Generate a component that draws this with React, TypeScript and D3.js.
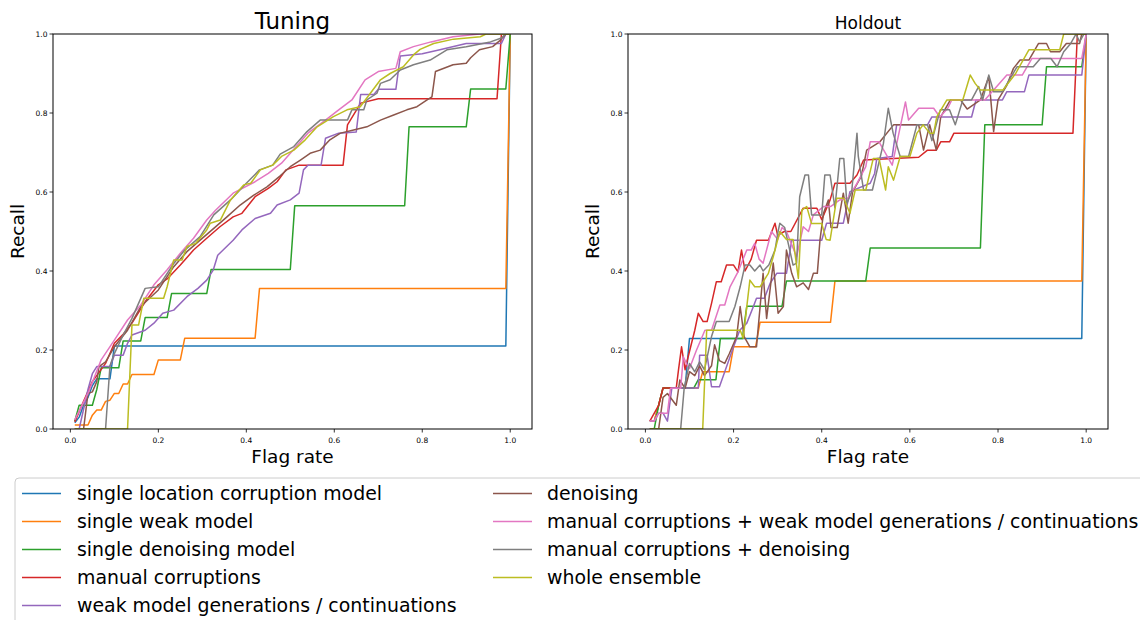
import React from 'react';
import * as d3 from 'd3';

type Pt = [number, number];

const seriesNames = [
  'single location corruption model',
  'single weak model',
  'single denoising model',
  'manual corruptions',
  'weak model generations / continuations',
  'denoising',
  'manual corruptions + weak model generations / continuations',
  'manual corruptions + denoising',
  'whole ensemble',
];
const seriesColors = ['#1f77b4', '#ff7f0e', '#2ca02c', '#d62728', '#9467bd', '#8c564b', '#e377c2', '#7f7f7f', '#bcbd22'];
const tickValues = [0, 0.2, 0.4, 0.6, 0.8, 1.0];
const tickLabels = ['0.0', '0.2', '0.4', '0.6', '0.8', '1.0'];
const panelTitles = ['Tuning', 'Holdout'];
const xLabel = 'Flag rate';
const yLabel = 'Recall';

// ---------- Tuning ----------
const tuningBlue: Pt[] = [[0.01,0.016],[0.02,0.03],[0.03,0.06],[0.04,0.08],[0.05,0.11],[0.06,0.127],[0.09,0.127],[0.1,0.21],[0.99,0.21],[1.0,1.0]];
const tuningOrange: Pt[] = [[0.01,0.01],[0.04,0.01],[0.05,0.035],[0.06,0.048],[0.07,0.048],[0.08,0.07],[0.09,0.073],[0.1,0.09],[0.11,0.09],[0.12,0.114],[0.13,0.114],[0.14,0.138],[0.19,0.138],[0.2,0.175],[0.25,0.175],[0.26,0.23],[0.42,0.23],[0.43,0.356],[0.99,0.356],[1.0,1.0]];
const tuningGreen: Pt[] = [[0.01,0.02],[0.02,0.06],[0.05,0.06],[0.06,0.1],[0.07,0.155],[0.11,0.155],[0.12,0.223],[0.16,0.223],[0.17,0.282],[0.22,0.282],[0.23,0.343],[0.31,0.343],[0.32,0.404],[0.5,0.404],[0.51,0.565],[0.76,0.565],[0.77,0.765],[0.9,0.765],[0.91,0.861],[0.99,0.861],[1.0,1.0]];
const tuningRed: Pt[] = [[0.01,0.018],[0.03,0.07],[0.05,0.12],[0.08,0.166],[0.1,0.217],[0.12,0.24],[0.14,0.268],[0.17,0.322],[0.2,0.365],[0.22,0.38],[0.25,0.415],[0.28,0.453],[0.31,0.483],[0.34,0.512],[0.37,0.537],[0.39,0.546],[0.42,0.588],[0.45,0.609],[0.47,0.626],[0.49,0.656],[0.52,0.668],[0.62,0.668],[0.63,0.77],[0.66,0.825],[0.7,0.836],[0.97,0.836],[0.98,1.0],[1.0,1.0]];
const tuningPurple: Pt[] = [[0.02,0.0],[0.03,0.05],[0.04,0.1],[0.05,0.14],[0.06,0.158],[0.09,0.158],[0.1,0.187],[0.12,0.187],[0.13,0.217],[0.14,0.238],[0.17,0.25],[0.19,0.268],[0.21,0.293],[0.235,0.301],[0.265,0.335],[0.29,0.356],[0.31,0.377],[0.325,0.403],[0.335,0.44],[0.37,0.478],[0.39,0.504],[0.42,0.533],[0.455,0.546],[0.47,0.567],[0.5,0.58],[0.52,0.597],[0.53,0.656],[0.54,0.668],[0.57,0.668],[0.58,0.736],[0.61,0.749],[0.65,0.752],[0.66,0.847],[0.69,0.847],[0.7,0.86],[0.74,0.86],[0.75,0.944],[0.8,0.95],[0.84,0.96],[0.9,0.976],[0.98,0.976],[0.99,1.0],[1.0,1.0]];
const tuningBrown: Pt[] = [[0.01,0.0],[0.03,0.0],[0.04,0.09],[0.05,0.094],[0.06,0.12],[0.065,0.158],[0.08,0.17],[0.1,0.208],[0.13,0.25],[0.16,0.31],[0.2,0.352],[0.235,0.411],[0.265,0.449],[0.295,0.478],[0.326,0.508],[0.356,0.537],[0.386,0.567],[0.417,0.592],[0.447,0.613],[0.477,0.641],[0.5,0.664],[0.523,0.681],[0.545,0.698],[0.568,0.706],[0.59,0.732],[0.614,0.749],[0.644,0.757],[0.674,0.765],[0.705,0.782],[0.735,0.795],[0.765,0.808],[0.788,0.816],[0.811,0.833],[0.822,0.841],[0.83,0.905],[0.87,0.922],[0.9,0.926],[0.91,0.94],[0.93,0.96],[0.96,0.968],[0.977,0.984],[0.99,1.0],[1.0,1.0]];
const tuningPink: Pt[] = [[0.01,0.023],[0.04,0.09],[0.07,0.175],[0.1,0.225],[0.13,0.276],[0.16,0.314],[0.19,0.365],[0.22,0.403],[0.25,0.445],[0.28,0.483],[0.31,0.529],[0.33,0.554],[0.37,0.597],[0.42,0.626],[0.45,0.647],[0.48,0.673],[0.51,0.711],[0.54,0.749],[0.58,0.782],[0.61,0.808],[0.64,0.833],[0.67,0.884],[0.7,0.905],[0.74,0.913],[0.75,0.955],[0.78,0.968],[0.82,0.98],[0.87,0.993],[0.93,1.0],[1.0,1.0]];
const tuningGray: Pt[] = [[0.01,0.0],[0.08,0.0],[0.09,0.16],[0.1,0.191],[0.12,0.238],[0.14,0.28],[0.17,0.356],[0.2,0.36],[0.235,0.419],[0.26,0.453],[0.295,0.487],[0.326,0.542],[0.364,0.58],[0.4,0.622],[0.43,0.656],[0.46,0.668],[0.477,0.696],[0.508,0.715],[0.538,0.753],[0.568,0.782],[0.63,0.782],[0.64,0.808],[0.667,0.808],[0.674,0.833],[0.697,0.85],[0.705,0.875],[0.727,0.884],[0.75,0.909],[0.78,0.922],[0.818,0.934],[0.856,0.96],[0.9,0.968],[0.955,0.98],[0.98,0.99],[0.99,1.0],[1.0,1.0]];
const tuningOlive: Pt[] = [[0.01,0.0],[0.13,0.0],[0.14,0.263],[0.155,0.263],[0.167,0.331],[0.212,0.331],[0.22,0.36],[0.235,0.428],[0.254,0.428],[0.265,0.462],[0.285,0.47],[0.31,0.504],[0.318,0.521],[0.341,0.529],[0.364,0.58],[0.394,0.618],[0.41,0.622],[0.432,0.656],[0.46,0.668],[0.48,0.69],[0.508,0.706],[0.534,0.732],[0.561,0.765],[0.598,0.791],[0.629,0.808],[0.659,0.816],[0.682,0.85],[0.705,0.884],[0.727,0.9],[0.757,0.917],[0.78,0.947],[0.795,0.961],[0.826,0.976],[0.871,0.987],[0.932,0.993],[0.945,1.0],[1.0,1.0]];

// ---------- Holdout ----------
const holdoutBlue: Pt[] = [[0.01,0.02],[0.02,0.02],[0.03,0.06],[0.04,0.104],[0.09,0.104],[0.1,0.229],[0.99,0.229],[1.0,1.0]];
const holdoutOrange: Pt[] = [[0.01,0.02],[0.02,0.02],[0.03,0.06],[0.04,0.104],[0.12,0.104],[0.13,0.145],[0.19,0.145],[0.2,0.208],[0.25,0.208],[0.26,0.27],[0.42,0.27],[0.43,0.375],[0.99,0.375],[1.0,1.0]];
const holdoutGreen: Pt[] = [[0.01,0.0],[0.02,0.0],[0.03,0.06],[0.04,0.104],[0.11,0.104],[0.12,0.125],[0.16,0.125],[0.17,0.229],[0.22,0.229],[0.23,0.311],[0.31,0.311],[0.32,0.375],[0.5,0.375],[0.51,0.458],[0.76,0.458],[0.77,0.77],[0.9,0.77],[0.91,0.917],[0.99,0.917],[1.0,1.0]];
const holdoutRed: Pt[] = [[0.01,0.02],[0.03,0.06],[0.04,0.104],[0.07,0.104],[0.075,0.149],[0.082,0.208],[0.09,0.15],[0.097,0.183],[0.112,0.25],[0.12,0.293],[0.131,0.272],[0.14,0.272],[0.15,0.318],[0.161,0.373],[0.172,0.373],[0.184,0.415],[0.2,0.415],[0.21,0.398],[0.218,0.453],[0.226,0.4],[0.24,0.43],[0.252,0.478],[0.279,0.478],[0.294,0.521],[0.3,0.49],[0.315,0.5],[0.33,0.5],[0.358,0.559],[0.389,0.559],[0.4,0.53],[0.419,0.58],[0.43,0.622],[0.464,0.622],[0.48,0.643],[0.495,0.681],[0.62,0.688],[0.64,0.706],[0.66,0.706],[0.67,0.727],[0.69,0.727],[0.7,0.749],[0.97,0.749],[0.98,1.0],[1.0,1.0]];
const holdoutPurple: Pt[] = [[0.01,0.02],[0.02,0.02],[0.03,0.04],[0.04,0.04],[0.05,0.02],[0.06,0.104],[0.12,0.104],[0.123,0.187],[0.14,0.187],[0.15,0.107],[0.168,0.107],[0.188,0.17],[0.2,0.208],[0.214,0.25],[0.23,0.268],[0.245,0.31],[0.252,0.331],[0.27,0.331],[0.283,0.369],[0.298,0.394],[0.32,0.394],[0.332,0.478],[0.4,0.478],[0.411,0.521],[0.449,0.521],[0.464,0.601],[0.51,0.622],[0.52,0.647],[0.525,0.685],[0.56,0.69],[0.57,0.77],[0.64,0.77],[0.65,0.79],[0.74,0.79],[0.75,0.833],[0.81,0.833],[0.82,0.854],[0.86,0.854],[0.87,0.896],[0.99,0.896],[1.0,1.0]];
const holdoutBrown: Pt[] = [[0.01,0.0],[0.03,0.0],[0.04,0.08],[0.05,0.09],[0.07,0.06],[0.078,0.124],[0.09,0.103],[0.1,0.145],[0.112,0.135],[0.123,0.16],[0.134,0.135],[0.15,0.16],[0.157,0.213],[0.168,0.173],[0.18,0.166],[0.19,0.19],[0.207,0.234],[0.215,0.31],[0.224,0.234],[0.237,0.208],[0.252,0.208],[0.267,0.394],[0.275,0.28],[0.29,0.42],[0.301,0.293],[0.313,0.31],[0.32,0.453],[0.332,0.394],[0.343,0.36],[0.358,0.37],[0.37,0.353],[0.381,0.394],[0.39,0.394],[0.396,0.478],[0.404,0.546],[0.415,0.58],[0.421,0.51],[0.435,0.51],[0.449,0.597],[0.46,0.521],[0.47,0.6],[0.49,0.64],[0.502,0.706],[0.532,0.727],[0.563,0.77],[0.62,0.77],[0.631,0.706],[0.645,0.77],[0.66,0.706],[0.67,0.79],[0.692,0.833],[0.715,0.833],[0.73,0.81],[0.76,0.833],[0.779,0.892],[0.79,0.753],[0.8,0.833],[0.82,0.87],[0.835,0.913],[0.85,0.934],[0.87,0.934],[0.892,0.976],[0.91,0.976],[0.919,0.955],[0.94,0.955],[0.955,0.976],[0.985,0.976],[0.99,1.0],[1.0,1.0]];
const holdoutPink: Pt[] = [[0.01,0.02],[0.02,0.02],[0.03,0.04],[0.05,0.04],[0.057,0.103],[0.08,0.103],[0.086,0.183],[0.093,0.166],[0.1,0.153],[0.116,0.2],[0.135,0.25],[0.15,0.25],[0.169,0.314],[0.18,0.314],[0.192,0.36],[0.21,0.398],[0.23,0.453],[0.24,0.453],[0.248,0.47],[0.258,0.43],[0.267,0.42],[0.286,0.5],[0.3,0.48],[0.31,0.51],[0.32,0.5],[0.343,0.436],[0.358,0.512],[0.37,0.5],[0.381,0.542],[0.404,0.563],[0.42,0.563],[0.441,0.58],[0.46,0.585],[0.48,0.622],[0.5,0.664],[0.51,0.727],[0.53,0.727],[0.56,0.668],[0.59,0.828],[0.597,0.782],[0.62,0.812],[0.654,0.812],[0.668,0.79],[0.686,0.812],[0.695,0.833],[0.77,0.833],[0.82,0.896],[0.855,0.896],[0.877,0.938],[0.99,0.938],[1.0,1.0]];
const holdoutGray: Pt[] = [[0.01,0.0],[0.08,0.0],[0.088,0.104],[0.1,0.166],[0.112,0.145],[0.123,0.17],[0.134,0.15],[0.15,0.234],[0.161,0.272],[0.19,0.272],[0.203,0.31],[0.215,0.36],[0.226,0.415],[0.237,0.415],[0.248,0.4],[0.26,0.415],[0.267,0.4],[0.28,0.415],[0.294,0.453],[0.301,0.5],[0.305,0.521],[0.316,0.51],[0.335,0.415],[0.343,0.42],[0.35,0.588],[0.362,0.643],[0.37,0.643],[0.377,0.542],[0.4,0.542],[0.407,0.643],[0.419,0.643],[0.43,0.56],[0.441,0.685],[0.45,0.685],[0.457,0.571],[0.468,0.6],[0.48,0.749],[0.483,0.69],[0.495,0.605],[0.515,0.605],[0.54,0.723],[0.551,0.812],[0.562,0.749],[0.578,0.69],[0.597,0.69],[0.616,0.77],[0.64,0.77],[0.65,0.73],[0.669,0.808],[0.69,0.808],[0.703,0.77],[0.72,0.833],[0.74,0.833],[0.756,0.867],[0.765,0.833],[0.779,0.896],[0.79,0.854],[0.81,0.854],[0.843,0.917],[0.88,0.917],[0.896,0.938],[0.92,0.938],[0.934,0.917],[0.949,0.955],[0.965,0.976],[0.977,1.0],[0.985,0.98],[0.995,1.0],[1.0,1.0]];
const holdoutOlive: Pt[] = [[0.01,0.0],[0.13,0.0],[0.139,0.25],[0.215,0.25],[0.222,0.23],[0.23,0.31],[0.237,0.377],[0.248,0.36],[0.26,0.36],[0.279,0.394],[0.29,0.436],[0.305,0.5],[0.32,0.48],[0.335,0.48],[0.347,0.381],[0.355,0.554],[0.366,0.563],[0.377,0.52],[0.4,0.52],[0.41,0.48],[0.419,0.478],[0.434,0.584],[0.45,0.584],[0.464,0.546],[0.476,0.605],[0.5,0.605],[0.517,0.685],[0.53,0.685],[0.545,0.605],[0.551,0.664],[0.563,0.63],[0.578,0.69],[0.6,0.69],[0.616,0.749],[0.63,0.77],[0.645,0.749],[0.654,0.749],[0.661,0.79],[0.684,0.833],[0.72,0.833],[0.737,0.896],[0.748,0.875],[0.76,0.858],[0.811,0.858],[0.84,0.9],[0.87,0.96],[0.94,0.96],[0.949,1.0],[1.0,1.0]];

const tuningSeries = [tuningBlue, tuningOrange, tuningGreen, tuningRed, tuningPurple, tuningBrown, tuningPink, tuningGray, tuningOlive];
const holdoutSeries = [holdoutBlue, holdoutOrange, holdoutGreen, holdoutRed, holdoutPurple, holdoutBrown, holdoutPink, holdoutGray, holdoutOlive];

const FONT = 'DejaVu Sans, sans-serif';

export default function App() {
  const top = 34;
  const bottom = 429;
  const panels = [
    { title: panelTitles[0], titleSize: 23, left: 53, right: 532, data: tuningSeries },
    { title: panelTitles[1], titleSize: 17, left: 628, right: 1108, data: holdoutSeries },
  ];
  const y = d3.scaleLinear().domain([0, 1]).range([bottom, top]);

  return (
    <svg width={1140} height={620} style={{ position: 'absolute', left: 0, top: 0 }} fontFamily={FONT}>
      <rect x={0} y={0} width={1140} height={620} fill="#fff" />
      {panels.map((p, pi) => {
        const x = d3.scaleLinear().domain([-0.0395, 1.0495]).range([p.left, p.right]);
        const line = d3.line<Pt>().x(d => x(d[0])).y(d => y(d[1]));
        const cx = (p.left + p.right) / 2;
        return (
          <g key={pi}>
            <defs>
              <clipPath id={`clip${pi}`}>
                <rect x={p.left} y={top} width={p.right - p.left} height={bottom - top} />
              </clipPath>
            </defs>
            <g clipPath={`url(#clip${pi})`}>
              {p.data.map((s, si) => (
                <path key={si} d={line(s) || ''} fill="none" stroke={seriesColors[si]} strokeWidth={1.5} strokeLinejoin="round" />
              ))}
            </g>
            <rect x={p.left} y={top} width={p.right - p.left} height={bottom - top} fill="none" stroke="#000" strokeWidth={1} />
            {tickValues.map((t, ti) => (
              <g key={'x' + ti}>
                <line x1={x(t)} x2={x(t)} y1={bottom} y2={bottom + 3.5} stroke="#000" strokeWidth={0.8} />
                <text x={x(t)} y={bottom + 14} fontSize={7.5} textAnchor="middle" fill="#000">{tickLabels[ti]}</text>
              </g>
            ))}
            {tickValues.map((t, ti) => (
              <g key={'y' + ti}>
                <line x1={p.left - 3.5} x2={p.left} y1={y(t)} y2={y(t)} stroke="#000" strokeWidth={0.8} />
                <text x={p.left - 5.5} y={y(t) + 2.7} fontSize={7.5} textAnchor="end" fill="#000">{tickLabels[ti]}</text>
              </g>
            ))}
            <text x={cx} y={29} fontSize={p.titleSize} textAnchor="middle" fill="#000">{p.title}</text>
            <text x={cx} y={463} fontSize={18.5} textAnchor="middle" fill="#000">{xLabel}</text>
            <text transform={`translate(${p.left - 29},${(top + bottom) / 2}) rotate(-90)`} fontSize={18.5} textAnchor="middle" fill="#000">{yLabel}</text>
          </g>
        );
      })}
      <rect x={15} y={478} width={1140} height={160} rx={4} fill="#fff" fillOpacity={0.8} stroke="#cccccc" strokeWidth={1} />
      {seriesNames.map((name, i) => {
        const col = i < 5 ? 0 : 1;
        const row = i < 5 ? i : i - 5;
        const hx = col === 0 ? 22 : 493;
        const tx = col === 0 ? 77 : 547;
        const base = 500 + row * 28;
        return (
          <g key={i}>
            <line x1={hx} x2={hx + 39} y1={base - 6.5} y2={base - 6.5} stroke={seriesColors[i]} strokeWidth={1.5} />
            <text x={tx} y={base} fontSize={18.9} fill="#000">{name}</text>
          </g>
        );
      })}
    </svg>
  );
}
